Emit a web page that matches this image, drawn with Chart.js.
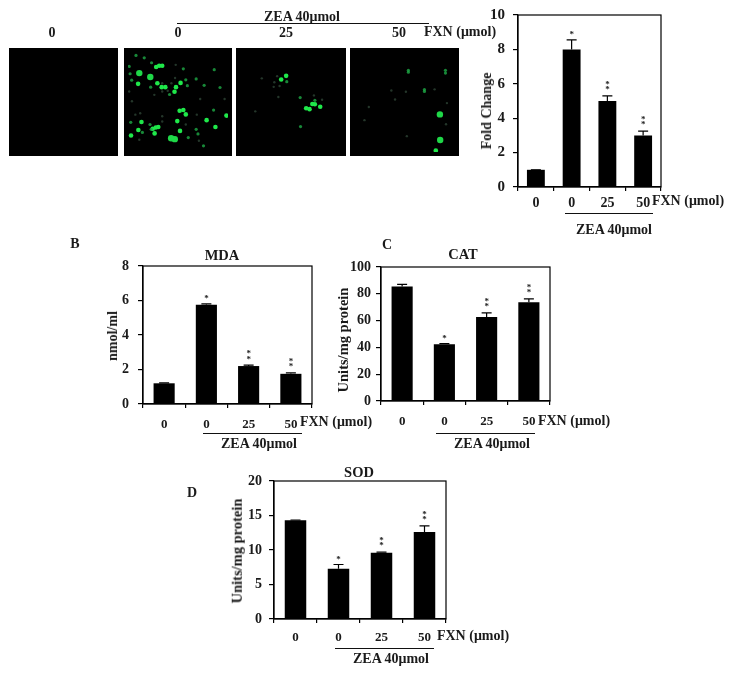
<!DOCTYPE html>
<html><head><meta charset="utf-8">
<script src="https://cdn.jsdelivr.net/npm/chart.js@4"></script>
<style>
html,body{margin:0;padding:0;background:#fff;width:730px;height:673px;overflow:hidden}
#page{position:absolute;left:0;top:0;width:730px;height:673px;filter:blur(.35px)}
canvas{position:absolute}
.t{position:absolute;font:bold 14px "Liberation Serif",serif;color:#1a1a1a;white-space:nowrap;transform:translate(-50%,-50%);line-height:1}
.r{position:absolute;background:#111;height:1px}
</style></head><body><div id="page"></div>
<script>
// ---------- bar chart data ----------
const doseLabels = ['0','0','25','50'];
const foldValues = [1,8,5,3];
const foldErrors = [0,0.55,0.3,0.25];
const foldTicks  = [0,2,4,6,8,10];
const foldMarks  = ['','*','**','**'];
const mdaValues  = [1.2,5.75,2.2,1.75];
const mdaErrors  = [0.03,0.05,0.05,0.05];
const mdaTicks   = [0,2,4,6,8];
const mdaMarks   = ['','*','**','**'];
const catValues  = [85.5,42.3,62.7,73.7];
const catErrors  = [1.5,0.5,3,2.5];
const catTicks   = [0,20,40,60,80,100];
const catMarks   = ['','*','**','**'];
const sodValues  = [14.3,7.3,9.6,12.6];
const sodErrors  = [0.05,0.6,0.1,0.9];
const sodTicks   = [0,5,10,15,20];
const sodMarks   = ['','*','**','**'];

// ---------- fluorescence field spots (field units 0-109) ----------
const field1Spots = [];
const field2Large = [[12.3,23],[24.3,27.3],[47,94],[51,95]];
const field2Bright = [[11,34.7],[32,34],[36.7,38.3],[40.7,38.3],[52.3,38.3],[57.3,33.7],[34,15],[37.3,15],[30.7,16.3],[50.7,43.3],[56.3,64],[60.3,63.3],[63,68],[53.7,75.3],[85.7,74.3],[107.3,69.3],[14.7,76.3],[30.3,82.3],[27,83.7],[33,81.7],[11.3,85],[3.3,91],[56.7,86],[29,88.7],[95.3,81.7]];
const field2Mid = [[8.7,3.7],[17.7,6.3],[25.7,11.7],[1.3,15.7],[60.3,18.3],[94,19.3],[4,30.7],[2.3,23.7],[74.3,29.3],[24.7,38.3],[83,36.3],[100.3,38.7],[45.3,46.3],[64.7,36.7],[63,30.3],[93.3,63.3],[24,79],[25.3,84.3],[76.3,89.3],[74.3,84.3],[65.7,93.3],[82.3,102.3],[3,76.7],[15.7,87.7]];
const field2Dim = [[52,14],[51.3,28.3],[47.3,34],[37.3,34],[28.7,46.7],[1.3,43],[4.3,53.7],[43.3,42.3],[37.3,43],[78.7,51.3],[105.3,51.3],[13.3,66.7],[37.3,70],[37.3,75.7],[75,68.3],[63,79],[77.3,96.7],[12.3,95.7],[8,68.3]];
const field3Large = [];
const field3Bright = [[49.3,26],[44,30],[70.7,61.3],[74.3,62.3],[77.3,56.7],[80,57],[85.7,59.7]];
const field3Mid = [[50,32.3],[64.3,49.7],[80,52.7],[64.7,81.3]];
const field3Dim = [[39.7,26.3],[23.3,28.7],[36.7,33],[36,38],[42.3,37],[41,49],[16.3,64.7],[79,47.3],[87.7,52]];
const field4Large = [[92.7,68],[93,96]];
const field4Bright = [[88.3,107.3]];
const field4Mid = [[58.7,20],[58.7,22],[98.7,20],[98.7,23],[76,41],[76,43]];
const field4Dim = [[40.3,42],[56,43.3],[44.3,51.7],[87,40.7],[16,60],[11.3,74.3],[99.3,78.7],[100.3,55.7],[57,91.7]];

const ink = '#000';
const font = '"Liberation Serif",serif';
const page = document.getElementById('page');

function addText(str,x,y,size,rot){
  const d=document.createElement('div');d.className='t';d.textContent=str;
  d.style.left=x+'px';d.style.top=y+'px';if(size)d.style.fontSize=size+'px';
  if(rot)d.style.transform='translate(-50%,-50%) rotate(-90deg)';
  page.appendChild(d);
}
function addRule(x0,x1,y){
  const d=document.createElement('div');d.className='r';
  d.style.left=x0+'px';d.style.top=y+'px';d.style.width=(x1-x0)+'px';
  page.appendChild(d);
}

// error bars, significance marks and frame, all through the chart's scales
const decor = {
  id:'decor',
  afterDatasetsDraw(c,_,o){
    const {ctx,chartArea:a,scales:{y}}=c;
    ctx.save();
    ctx.strokeStyle=ink;ctx.lineWidth=1.2;
    ctx.strokeRect(a.left,a.top,a.right-a.left,a.bottom-a.top);
    c.data.datasets[0].data.forEach((v,i)=>{
      const cx=c.getDatasetMeta(0).data[i].x, top=y.getPixelForValue(v+o.errors[i]), base=y.getPixelForValue(v);
      ctx.beginPath();ctx.moveTo(cx,base);ctx.lineTo(cx,top);
      ctx.moveTo(cx-5,top);ctx.lineTo(cx+5,top);ctx.stroke();
      const m=o.marks[i];
      if(m){
        ctx.fillStyle='#222';ctx.textAlign='center';ctx.textBaseline='middle';
        ctx.font='bold 9px '+font;
        for(let k=0;k<m.length;k++) ctx.fillText('*',cx,top-(m.length>1?6:5)-k*5.5);
      }
    });
    ctx.restore();
  }
};

function barChart(plot,labels,values,errors,marks,ticks,tickSize){
  const M={l:60,t:30,r:90,b:50};
  const cv=document.createElement('canvas');
  const W=plot.w+M.l+M.r,H=plot.h+M.t+M.b;
  cv.width=W;cv.height=H;cv.style.width=W+'px';cv.style.height=H+'px';
  cv.style.left=(plot.x-M.l)+'px';cv.style.top=(plot.y-M.t)+'px';
  page.appendChild(cv);
  new Chart(cv,{
    type:'bar',
    data:{labels,datasets:[{data:values,backgroundColor:ink,borderWidth:0,barPercentage:0.5,categoryPercentage:1}]},
    plugins:[decor],
    options:{
      responsive:false,animation:false,devicePixelRatio:1,
      layout:{padding:{left:M.l-plot.axisW,top:M.t,right:M.r,bottom:0}},
      plugins:{legend:{display:false},tooltip:{enabled:false},decor:{errors,marks}},
      scales:{
        x:{
          grid:{display:true,drawOnChartArea:false,drawTicks:true,tickLength:4,color:ink,offset:true,lineWidth:1.2},
          border:{color:ink,width:1.2},
          ticks:{color:'#1a1a1a',font:{family:font,size:tickSize,weight:'bold'},padding:plot.tickPad,maxRotation:0,autoSkip:false},
          afterFit(s){s.height=M.b;}
        },
        y:{
          min:ticks[0],max:ticks[ticks.length-1],
          afterBuildTicks(s){s.ticks=ticks.map(v=>({value:v}));},
          grid:{display:true,drawOnChartArea:false,drawTicks:true,tickLength:5,color:ink,lineWidth:1.2},
          border:{color:ink,width:1.2},
          ticks:{color:'#1a1a1a',font:{family:font,size:tickSize+1,weight:'bold'},padding:plot.yPad},
          afterFit(s){s.width=plot.axisW;}
        }
      }
    }
  });
}

function field(box,large,bright,mid,dim){
  const cv=document.createElement('canvas');
  cv.width=box.w;cv.height=box.h;
  cv.style.cssText=`left:${box.x}px;top:${box.y}px;width:${box.w}px;height:${box.h}px;background:#000;filter:blur(.7px)`;
  page.appendChild(cv);
  const pts=a=>a.map(([x,y])=>({x,y}));
  new Chart(cv,{
    type:'scatter',
    data:{datasets:[
      {data:pts(dim),pointRadius:1.2,backgroundColor:'rgba(60,90,70,.6)',borderWidth:0},
      {data:pts(mid),pointRadius:1.6,backgroundColor:'rgba(30,170,70,.8)',borderWidth:0},
      {data:pts(bright),pointRadius:2.3,backgroundColor:'#1fe84a',borderWidth:0},
      {data:pts(large),pointRadius:3.2,backgroundColor:'#1fd848',borderWidth:0}
    ]},
    options:{responsive:false,animation:false,devicePixelRatio:1,
      layout:{padding:0},
      plugins:{legend:{display:false},tooltip:{enabled:false}},
      scales:{x:{display:false,min:0,max:109},y:{display:false,min:0,max:109,reverse:true}}
    }
  });
}

// fluorescence fields
field({x:9,y:48,w:109,h:108},field1Spots,[],[],[]);
field({x:124,y:48,w:108,h:108},field2Large,field2Bright,field2Mid,field2Dim);
field({x:236,y:48,w:110,h:108},field3Large,field3Bright,field3Mid,field3Dim);
field({x:350,y:48,w:109,h:108},field4Large,field4Bright,field4Mid,field4Dim);
addText('0',52,33,14);addText('0',178,33,14);addText('25',286,33,14);addText('50',399,33,14);
addText('FXN (μmol)',460,32,14);
addText('ZEA 40μmol',302,17,14);
addRule(177,429,23);

// A
barChart({x:518,y:15,w:143,h:172,axisW:39,tickPad:4,yPad:8},doseLabels,foldValues,foldErrors,foldMarks,foldTicks,14);
addText('Fold Change',487,111,14,true);
addText('FXN (μmol)',688,201,14);
addText('ZEA 40μmol',614,230,14);
addRule(565,653,213);

// B
addText('B',75,244,14);addText('MDA',222,255,14.5);
barChart({x:143,y:266,w:169,h:138,axisW:38,tickPad:9,yPad:9},doseLabels,mdaValues,mdaErrors,mdaMarks,mdaTicks,13);
addText('nmol/ml',113,336,14,true);
addText('FXN (μmol)',336,422,14);
addText('ZEA 40μmol',259,444,14);
addRule(203,302,433);

// C
addText('C',387,245,14);addText('CAT',463,254,14.5);
barChart({x:381,y:267,w:169,h:134,axisW:46,tickPad:9,yPad:5},doseLabels,catValues,catErrors,catMarks,catTicks,13);
addText('Units/mg protein',343,340,14.5,true);
addText('FXN (μmol)',574,421,14);
addText('ZEA 40μmol',492,444,14);
addRule(436,535,433);

// D
addText('D',192,493,14);addText('SOD',359,472,14.5);
barChart({x:274,y:481,w:172,h:138,axisW:45,tickPad:7,yPad:7},doseLabels,sodValues,sodErrors,sodMarks,sodTicks,13);
addText('Units/mg protein',237,551,14.5,true);
addText('FXN (μmol)',473,636,14);
addText('ZEA 40μmol',391,659,14);
addRule(335,434,648);
</script>
</body></html>
